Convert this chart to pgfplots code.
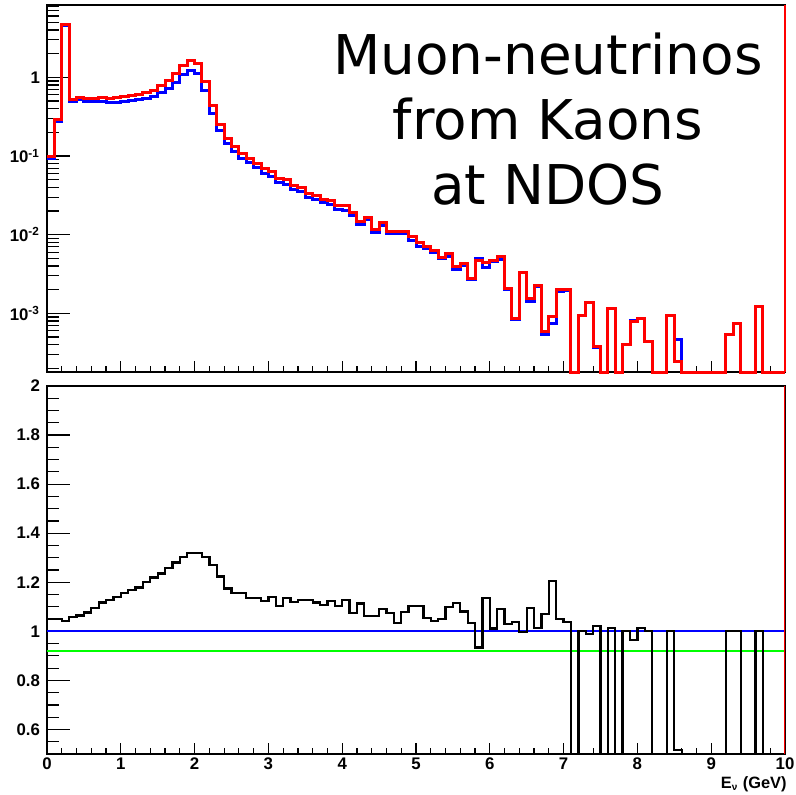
\documentclass[border=0pt]{standalone}
\usepackage{pgfplots}
\pgfplotsset{compat=1.18}
\usepackage{pgfplotstable}
\usepackage{fontspec}
\setmainfont{Liberation Sans}
\newfontfamily\dejavu{DejaVu Sans}

% bin left edge, red histogram, blue histogram, ratio red/blue
% empty bins: 1.8e-4 (= ymin of the log panel) and ratio 0
\pgfplotstableread{
x    red      blue     ratio
0.0  0.098    0.0934   1.049
0.1  0.287    0.2736   1.049
0.2  4.75     4.554    1.043
0.3  0.515    0.4872   1.057
0.4  0.551    0.5179   1.064
0.5  0.535    0.4968   1.077
0.6  0.535    0.4886   1.095
0.7  0.551    0.4933   1.117
0.8  0.535    0.4743   1.128
0.9  0.551    0.4833   1.140
1.0  0.567    0.4909   1.155
1.1  0.590    0.5051   1.168
1.2  0.608    0.5157   1.179
1.3  0.638    0.5317   1.200
1.4  0.690    0.5656   1.220
1.5  0.791    0.6400   1.236
1.6  0.898    0.7138   1.258
1.7  1.11     0.8665   1.281
1.8  1.42     1.089    1.304
1.9  1.63     1.237    1.318
2.0  1.48     1.123    1.318
2.1  0.879    0.6741   1.304
2.2  0.441    0.3472   1.270
2.3  0.255    0.2085   1.223
2.4  0.168    0.1430   1.175
2.5  0.131    0.1134   1.155
2.6  0.108    0.0935   1.155
2.7  0.0935   0.0824   1.135
2.8  0.0808   0.0712   1.135
2.9  0.0684   0.0608   1.125
3.0  0.0632   0.0554   1.141
3.1  0.0511   0.0463   1.103
3.2  0.0496   0.0436   1.137
3.3  0.0420   0.0375   1.119
3.4  0.0396   0.0351   1.128
3.5  0.0336   0.0298   1.128
3.6  0.0313   0.0280   1.118
3.7  0.0282   0.0255   1.108
3.8  0.0270   0.0240   1.124
3.9  0.0232   0.0210   1.104
4.0  0.0232   0.0206   1.128
4.1  0.0190   0.0177   1.076
4.2  0.0149   0.0134   1.114
4.3  0.0164   0.0154   1.062
4.4  0.0115   0.0108   1.062
4.5  0.0142   0.0130   1.090
4.6  0.0111   0.0103   1.075
4.7  0.0109   0.0105   1.034
4.8  0.0111   0.0103   1.080
4.9  0.00944  0.00856  1.103
5.0  0.00791  0.00717  1.103
5.1  0.00705  0.00668  1.055
5.2  0.00626  0.00600  1.043
5.3  0.00516  0.00492  1.049
5.4  0.00581  0.00529  1.098
5.5  0.00400  0.00359  1.115
5.6  0.00433  0.00401  1.081
5.7  0.00279  0.00270  1.034
5.8  0.00468  0.00501  0.934
5.9  0.00441  0.00388  1.136
6.0  0.00468  0.00462  1.012
6.1  0.00525  0.00482  1.090
6.2  0.00208  0.00202  1.031
6.3  0.000867 0.000835 1.038
6.4  0.00329  0.00330  0.998
6.5  0.00156  0.00143  1.094
6.6  0.00223  0.00220  1.013
6.7  0.000585 0.000547 1.070
6.8  0.000908 0.000753 1.206
6.9  0.00202  0.00192  1.051
7.0  0.00202  0.00195  1.037
7.1  1.8e-4   1.8e-4   0
7.2  0.000927 0.000927 1.000
7.3  0.00137  0.00139  0.988
7.4  0.000378 0.000370 1.023
7.5  1.8e-4   1.8e-4   0
7.6  0.00116  0.00114  1.015
7.7  1.8e-4   1.8e-4   0
7.8  0.000397 0.000397 1.000
7.9  0.000785 0.000813 0.965
8.0  0.000867 0.000854 1.015
8.1  0.000437 0.000437 1.000
8.2  1.8e-4   1.8e-4   0
8.3  1.8e-4   1.8e-4   0
8.4  0.000927 0.000927 1.000
8.5  0.000243 0.000470 0.517
8.6  1.8e-4   1.8e-4   0
8.7  1.8e-4   1.8e-4   0
8.8  1.8e-4   1.8e-4   0
8.9  1.8e-4   1.8e-4   0
9.0  1.8e-4   1.8e-4   0
9.1  1.8e-4   1.8e-4   0
9.2  0.000547 0.000547 1.000
9.3  0.000748 0.000748 1.000
9.4  1.8e-4   1.8e-4   0
9.5  1.8e-4   1.8e-4   0
9.6  0.00124  0.00124  1.000
9.7  1.8e-4   1.8e-4   0
9.8  1.8e-4   1.8e-4   0
9.9  1.8e-4   1.8e-4   0
10.0 1.8e-4   1.8e-4   0
}\hist

\pgfplotsset{
  rootax/.style={
    scale only axis, width=369pt,
    xmin=0, xmax=10,
    tick align=inside, xtick pos=bottom, ytick pos=left,
    xtick={0,1,2,3,4,5,6,7,8,9,10}, minor x tick num=4,
    major tick length=11.3pt, minor tick length=5.8pt,
    every x tick/.append style={/pgfplots/major tick length=5.5pt, /pgfplots/minor tick length=3pt},
    every tick/.style={black, line width=0.6pt},
    axis line style={line width=0.9pt},
    tick label style={font=\fontsize{8.4}{10}\selectfont\bfseries},
    xticklabel style={inner sep=1.8pt},
    /pgf/number format/assume math mode=true,
  },
}

\begin{document}
\begin{tikzpicture}
\path[use as bounding box] (0,0) rectangle (398pt,-397.5pt);

\begin{axis}[rootax,
  at={(23.5pt,-2.5pt)}, anchor=north west, height=183.5pt,
  ymode=log, ymin=1.8e-4, ymax=8.3,
  xticklabels={},
  ytick={1e-3,1e-2,1e-1,1},
  yticklabels={10\textsuperscript{-3},10\textsuperscript{-2},10\textsuperscript{-1},1},
  minor ytick={2e-4,3e-4,4e-4,5e-4,6e-4,7e-4,8e-4,9e-4,
    2e-3,3e-3,4e-3,5e-3,6e-3,7e-3,8e-3,9e-3,
    2e-2,3e-2,4e-2,5e-2,6e-2,7e-2,8e-2,9e-2,
    2e-1,3e-1,4e-1,5e-1,6e-1,7e-1,8e-1,9e-1,
    2,3,4,5,6,7,8},
  clip=false,
]
\addplot[const plot, blue, line width=1.5pt] table[x=x, y=blue] {\hist};
\addplot[const plot, red, line width=1.5pt] table[x=x, y=red] {\hist};
\addplot[red, line width=1.2pt] coordinates {(10,1.8e-4) (10,8.3)};
\end{axis}

\node[font=\dejavu\fontsize{27.4}{30}\selectfont, anchor=base] at (274pt,-37.5pt) {Muon-neutrinos};
\node[font=\dejavu\fontsize{27.4}{30}\selectfont, anchor=base] at (274pt,-70pt) {from Kaons};
\node[font=\dejavu\fontsize{27.4}{30}\selectfont, anchor=base] at (274pt,-102.5pt) {at NDOS};

\begin{axis}[rootax,
  at={(23.5pt,-193pt)}, anchor=north west, height=184pt,
  ymin=0.5, ymax=2,
  ytick={0.6,0.8,1,1.2,1.4,1.6,1.8,2},
  minor ytick={0.5,0.55,0.65,0.7,0.75,0.85,0.9,0.95,1.05,1.1,1.15,1.25,1.3,1.35,1.45,1.5,1.55,1.65,1.7,1.75,1.85,1.9,1.95},
]
\addplot[blue, line width=1pt] coordinates {(0,1) (10,1)};
\addplot[green, line width=1pt] coordinates {(0,0.92) (10,0.92)};
\addplot[const plot, black, line width=1.15pt] table[x=x, y=ratio] {\hist};
\addplot[red, line width=1.2pt] coordinates {(10,0.5) (10,2)};
\end{axis}

\node[font=\fontsize{8.2}{9}\selectfont\bfseries, anchor=north east, inner sep=0pt] at (393.5pt,-388.2pt)
  {E\textsubscript{\fontsize{5}{6}\selectfont ν} (GeV)};
\end{tikzpicture}
\end{document}
